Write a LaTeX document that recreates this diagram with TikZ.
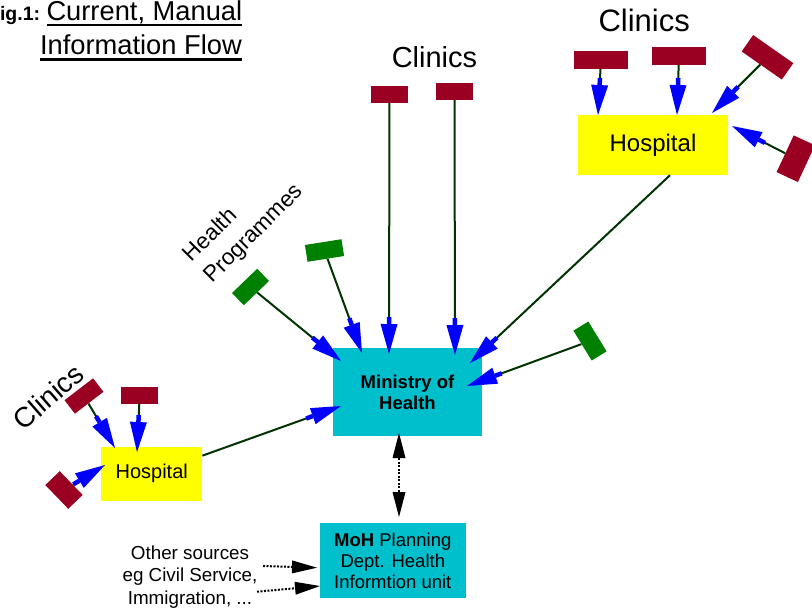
\documentclass[tikz,border=0pt]{standalone}
\usepackage{fontspec}
\setmainfont{Liberation Sans}
\usetikzlibrary{arrows.meta}
\definecolor{clinicred}{RGB}{153,0,33}
\definecolor{hpgreen}{RGB}{0,128,0}
\definecolor{lineg}{RGB}{0,51,0}
\definecolor{mohcyan}{RGB}{0,191,204}
\definecolor{hospyellow}{RGB}{255,255,0}
\definecolor{tipblue}{RGB}{0,0,255}
\newcommand{\fsz}[2]{\fontsize{#1}{#2}\selectfont}
\begin{document}
\begin{tikzpicture}[x=1pt,y=-1pt,
  clinic/.style={fill=clinicred, inner sep=0pt, minimum width=37pt, minimum height=17pt},
  prog/.style={fill=hpgreen, inner sep=0pt, minimum width=36pt, minimum height=17pt},
  hosp/.style={fill=hospyellow, inner sep=0pt, align=center},
  mohbox/.style={fill=mohcyan, inner sep=0pt, align=center},
  txt/.style={inner sep=0pt, outer sep=0pt},
  feed/.style={draw=lineg, line width=2pt,
    -{Rectangle[length=7pt,width=4.5pt,tipblue,line width=0pt]Triangle[length=30pt,width=17pt,tipblue,line width=0pt]}},
  dotline/.style={draw=black, line width=2pt, dash pattern=on 2pt off 1.5pt},
  ulin/.style={line width=2.5pt}]
\useasboundingbox (0,0) rectangle (812,614);
\clip (0,0) rectangle (812,614);

% title
\node[txt, anchor=base west, font=\fsz{19.5}{22}\bfseries] (fig) at (0,20.7) {ig.1:};
\node[txt, anchor=base west, font=\fsz{27.3}{31}] (t1) at (46.5,20.7) {Current, Manual};
\node[txt, anchor=base west, font=\fsz{27.3}{31}] (t2) at (40,54.3) {Information Flow};
\draw[ulin] ([yshift=-4.3pt]t1.base west) -- ([yshift=-4.3pt]t1.base east);
\draw[ulin] ([yshift=-5pt]t2.base west) -- ([yshift=-5pt]t2.base east);

% labels
\node[txt, anchor=base, font=\fsz{29}{32}] (cltop) at (434.5,67.3) {Clinics};
\node[txt, anchor=base, font=\fsz{31}{34}] (clright) at (644.2,31.7) {Clinics};
\node[txt, rotate=41, font=\fsz{28}{31}] (clleft) at (48.3,396.7) {Clinics};
\node[txt, anchor=north west, rotate=45, align=left, font=\fsz{22.5}{29.5}] (hp) at (180.4,251.4) {Health\\Programmes};

% main boxes
\node[mohbox, minimum width=149pt, minimum height=88pt, font=\fsz{18.5}{21}\bfseries] (moh) at (407.5,392) {Ministry of\\Health};
\node[mohbox, minimum width=146pt, minimum height=75pt, font=\fsz{18.5}{21}] (plan) at (392.8,560.8) {\textbf{MoH} Planning\\Dept. Health\\Informtion unit};
\node[hosp, minimum width=150pt, minimum height=60pt, font=\fsz{24}{27}] (hospR) at (653,145) {Hospital};
\node[hosp, minimum width=101pt, minimum height=54pt, font=\fsz{20}{23}] (hospL) at (151.7,473.8) {Hospital};
\node[txt, align=center, font=\fsz{18.8}{22.4}] (other) at (190,576.8) {Other sources\\eg Civil Service,\\Immigration, ...};

% clinics
\node[clinic] (tc1) at (389.5,94.5) {};
\node[clinic] (tc2) at (454.5,91.5) {};
\node[clinic, minimum width=54pt, minimum height=18pt] (rc1) at (601,60) {};
\node[clinic, minimum width=54pt, minimum height=18pt] (rc2) at (679,56) {};
\node[clinic, minimum width=49pt, minimum height=20pt, rotate=-35] (rc3) at (767.5,57.3) {};
\node[clinic, minimum width=40.5pt, minimum height=23.5pt, rotate=65] (rc4) at (795.8,158.7) {};
\node[clinic, minimum width=36pt, rotate=37.5] (lc1) at (84,396) {};
\node[clinic] (lc2) at (139.7,395) {};
\node[clinic, minimum width=33pt, minimum height=20pt, rotate=-46] (lc3) at (64,490) {};

% health programmes
\node[prog, minimum width=35pt, rotate=44] (g1) at (250.5,287) {};
\node[prog, minimum width=37pt, rotate=9] (g2) at (324.5,250.5) {};
\node[prog, minimum width=35pt, minimum height=17.5pt, rotate=-58.5] (g3) at (590,341) {};

% arrow tip points
\coordinate (tA) at (598,115);
\coordinate (tB) at (677,115);
\coordinate (tC) at (712,113);
\coordinate (tD) at (732,126);
\coordinate (m1) at (341,361);
\coordinate (m2) at (362,353);
\coordinate (m3) at (389,354);
\coordinate (m4) at (455,355);
\coordinate (m5) at (470,363);
\coordinate (m6) at (467,386);
\coordinate (m7) at (341,406);
\coordinate (l1) at (115,448);
\coordinate (l2) at (137,452);
\coordinate (l3) at (105,465);
\coordinate (dt) at (399,433);
\coordinate (db) at (399,517);
\coordinate (o1s) at (263,566);
\coordinate (o1e) at (317,567.7);
\coordinate (o2s) at (257,591.7);
\coordinate (o2e) at (320,586);

% feeds into right hospital
\draw[feed] (rc1) -- (tA);
\draw[feed] (rc2) -- (tB);
\draw[feed] (rc3) -- (tC);
\draw[feed] (rc4) -- (tD);
% feeds into left hospital
\draw[feed] (lc1) -- (l1);
\draw[feed] (lc2) -- (l2);
\draw[feed] (lc3) -- (l3);
% feeds into MoH
\draw[feed] (g1) -- (m1);
\draw[feed] (g2) -- (m2);
\draw[feed] (tc1) -- (m3);
\draw[feed] (tc2) -- (m4);
\draw[feed] ([xshift=17pt]hospR.south) -- (m5);
\draw[feed] (g3) -- (m6);
\draw[feed] (hospL) -- (m7);

% dotted links
\draw[dotline, {Triangle[length=25pt,width=13pt,line width=0pt]}-{Triangle[length=25pt,width=13pt,line width=0pt]}] (dt) -- (db);
\draw[dotline, -{Triangle[length=25pt,width=13pt,line width=0pt]}] (o1s) -- (o1e);
\draw[dotline, -{Triangle[length=25pt,width=13pt,line width=0pt]}] (o2s) -- (o2e);
\end{tikzpicture}
\end{document}
